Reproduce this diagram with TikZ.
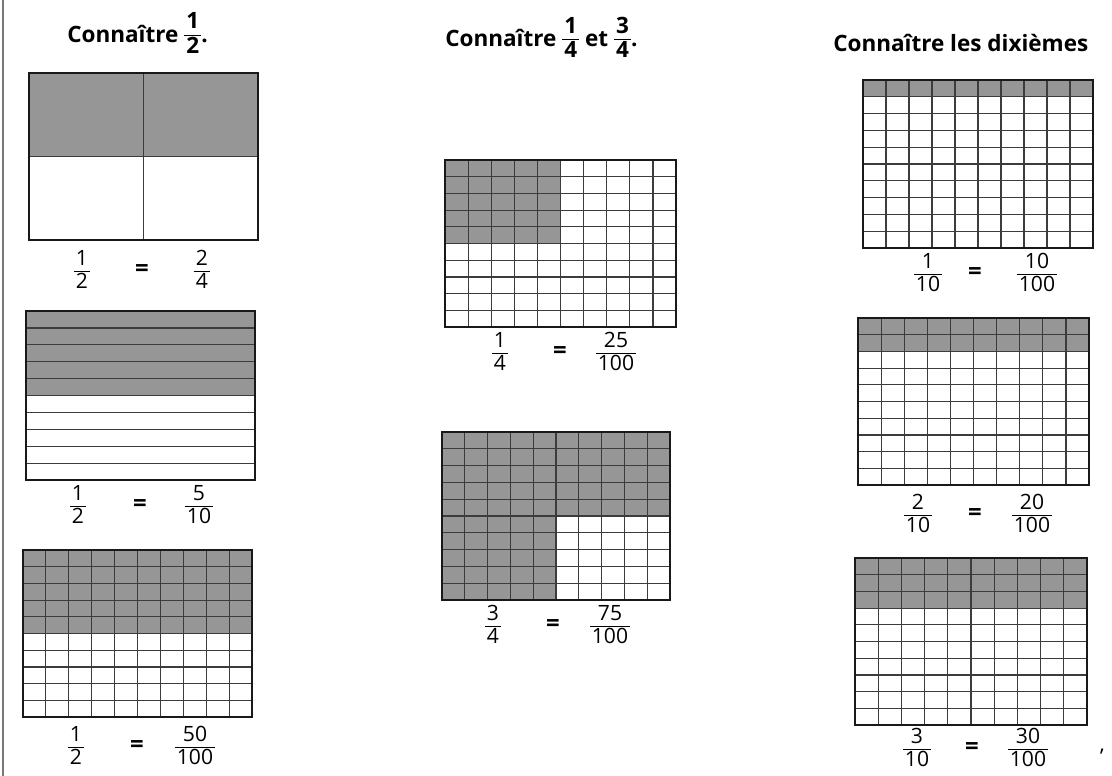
\documentclass[tikz,border=0pt]{standalone}
\usepackage{fontspec}
\setmainfont{Open Sans}
\usetikzlibrary{positioning}

\definecolor{grisCase}{RGB}{150,150,150}
\definecolor{grisTrait}{RGB}{60,60,60}
\definecolor{grisBord}{RGB}{120,120,120}

% fraction serree, chiffres du texte
\newcommand{\fr}[2]{{\def\arraystretch{0.78}\setlength{\tabcolsep}{1.5pt}%
  \begin{tabular}{c}#1\\\hline\noalign{\vskip1pt}#2\end{tabular}}}

% quadrillage : coin haut gauche (#1,#2), coin bas droit (#3,#4), #5 colonnes, #6 lignes
\newcommand{\quadrillage}[6]{%
  \ifnum#5>1
    \foreach \k in {2,...,#5}
      \draw[trait] ({#1+(\k-1)*(#3-#1)/#5},#2) -- ({#1+(\k-1)*(#3-#1)/#5},#4);
  \fi
  \foreach \k in {2,...,#6}
    \draw[trait] (#1,{#2+(\k-1)*(#4-#2)/#6}) -- (#3,{#2+(\k-1)*(#4-#2)/#6});
  \draw[cadre] (#1,#2) rectangle (#3,#4);
}

\tikzset{
  titre/.style={font=\fontsize{16}{18}\selectfont\bfseries, anchor=west, inner sep=0pt},
  frac/.style={font=\fontsize{15}{17}\selectfont, inner sep=1pt},
  egal/.style={font=\fontsize{17}{18}\selectfont\bfseries, inner sep=1pt},
  cadre/.style={draw=black!90, line width=1.2pt},
  trait/.style={draw=grisTrait, line width=0.85pt},
  grise/.style={fill=grisCase},
}

\begin{document}
\begin{tikzpicture}[x=0.025cm, y=-0.025cm]

\useasboundingbox (0,0) rectangle (1112,776);
\draw[grisBord, line width=1.5pt] (3,0) -- (3,776);

% titres
\node[titre] (titre1) at (67,36) {Connaître \fr{1}{2}.};
\node[titre] (titre2) at (445,40) {Connaître \fr{1}{4} et \fr{3}{4}.};
\node[titre] (titre3) at (833,43) {Connaître les dixièmes};

% colonne de gauche
\fill[grise] (29,73) rectangle (258,156.5);
\quadrillage{29}{73}{258}{240}{2}{2}
\node[frac] (demiA) at (82,272) {\fr{1}{2}};
\node[egal] (egalA) at (142,271) {=};
\node[frac] (quartsA) at (202,272) {\fr{2}{4}};

\fill[grise] (26,311) rectangle (255,395.5);
\quadrillage{26}{311}{255}{480}{1}{10}
\node[frac] (demiB) at (78,507) {\fr{1}{2}};
\node[egal] (egalB) at (140,506) {=};
\node[frac] (dixB) at (199,507) {\fr{5}{10}};

\fill[grise] (23,550) rectangle (252,633.5);
\quadrillage{23}{550}{252}{717}{10}{10}
\node[frac] (demiC) at (76,748) {\fr{1}{2}};
\node[egal] (egalC) at (137,747) {=};
\node[frac] (centC) at (195,748) {\fr{50}{100}};

% colonne du milieu
\fill[grise] (445,160) rectangle (560.5,243.5);
\quadrillage{445}{160}{676}{327}{10}{10}
\node[frac] (quartD) at (500,354) {\fr{1}{4}};
\node[egal] (egalD) at (560,353) {=};
\node[frac] (centD) at (616,354) {\fr{25}{100}};

\fill[grise] (442,432) -- (670,432) -- (670,516) -- (556,516) -- (556,600) -- (442,600) -- cycle;
\quadrillage{442}{432}{670}{600}{10}{10}
\node[frac] (quartE) at (493,627) {\fr{3}{4}};
\node[egal] (egalE) at (553,626) {=};
\node[frac] (centE) at (610,627) {\fr{75}{100}};

% colonne de droite
\fill[grise] (863,80) rectangle (1093,96.8);
\quadrillage{863}{80}{1093}{248}{10}{10}
\node[frac] (dixF) at (928,275) {\fr{1}{10}};
\node[egal] (egalF) at (975,274) {=};
\node[frac] (centF) at (1037,275) {\fr{10}{100}};

\fill[grise] (858,318) rectangle (1089,351.4);
\quadrillage{858}{318}{1089}{485}{10}{10}
\node[frac] (dixG) at (918,516) {\fr{2}{10}};
\node[egal] (egalG) at (975,515) {=};
\node[frac] (centG) at (1032,516) {\fr{20}{100}};

\fill[grise] (855,558) rectangle (1087,608.1);
\quadrillage{855}{558}{1087}{725}{10}{10}
\node[frac] (dixH) at (917,750) {\fr{3}{10}};
\node[egal] (egalH) at (972,749) {=};
\node[frac] (centH) at (1028,750) {\fr{30}{100}};
\node[frac, anchor=west] (virgule) at (1098,752) {,};

\end{tikzpicture}
\end{document}
